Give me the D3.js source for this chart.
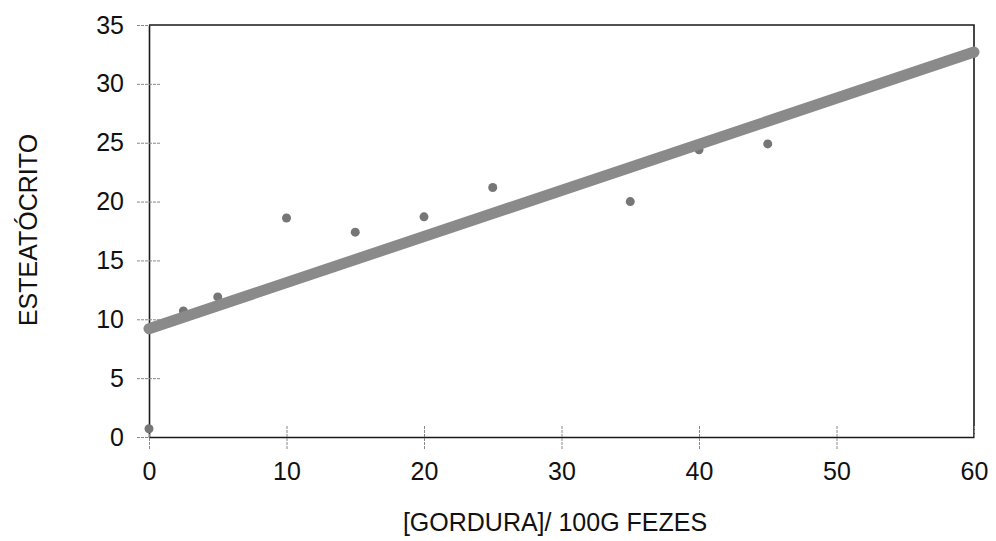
<!DOCTYPE html>
<html>
<head>
<meta charset="utf-8">
<script src="https://cdn.jsdelivr.net/npm/d3@7"></script>
<style>
  html, body { margin: 0; padding: 0; background: #fff; }
  svg { display: block; font-family: "Liberation Sans", Arial, sans-serif; }
</style>
</head>
<body>
<svg id="chart" width="996" height="541"></svg>
<script>
// Measured fat content vs steatocrit
const fatValues   = [0, 0, 2.5, 5, 10, 15, 20, 25, 35, 40, 45, 60];
const steatocrit  = [0.7, 9.2, 10.7, 11.9, 18.6, 17.4, 18.7, 21.2, 20.0, 24.4, 24.9, 32.6];

// Fitted regression line endpoints
const fitX = [0, 60];
const fitY = [9.2, 32.7];

const xTicks = [0, 10, 20, 30, 40, 50, 60];
const yTicks = [0, 5, 10, 15, 20, 25, 30, 35];

const xTitle = "[GORDURA]/ 100G FEZES";
const yTitle = "ESTEATÓCRITO";

const svg = d3.select("#chart");
const plotLeft = 149, plotRight = 974, plotTop = 25, plotBottom = 437;
const fontSize = 25;

const x = d3.scaleLinear().domain([0, 60]).range([plotLeft, plotRight]);
const y = d3.scaleLinear().domain([0, 35]).range([plotBottom, plotTop]);

// Frame (top and right edges)
svg.append("path")
  .attr("d", `M${plotLeft},${plotTop}H${plotRight}V${plotBottom}`)
  .attr("fill", "none").attr("stroke", "#1a1a1a").attr("stroke-width", 1.6);

// Y axis: ticks crossing the axis line
const yAxis = svg.append("g").attr("transform", `translate(${plotLeft},0)`)
  .call(d3.axisLeft(y).tickValues(yTicks).tickSize(0).tickPadding(25));
yAxis.select(".domain").attr("stroke", "#1a1a1a").attr("stroke-width", 1.6);
yAxis.selectAll(".tick text")
  .attr("font-size", fontSize).attr("fill", "#111")
  .attr("font-family", "Liberation Sans, Arial, sans-serif");
yAxis.selectAll(".tick").append("line")
  .attr("x1", -12).attr("x2", d => d === 35 ? 0 : 12)
  .attr("stroke", "#888").attr("stroke-width", 1).attr("stroke-dasharray", "3,1");

// X axis
const xAxis = svg.append("g").attr("transform", `translate(0,${plotBottom})`)
  .call(d3.axisBottom(x).tickValues(xTicks).tickSize(0).tickPadding(25));
xAxis.select(".domain").attr("stroke", "#1a1a1a").attr("stroke-width", 1.6);
xAxis.selectAll(".tick text")
  .attr("font-size", fontSize).attr("fill", "#111")
  .attr("font-family", "Liberation Sans, Arial, sans-serif");
xAxis.selectAll(".tick").append("line")
  .attr("y1", -11).attr("y2", d => d === 60 ? 0 : 12)
  .attr("stroke", "#888").attr("stroke-width", 1).attr("stroke-dasharray", "3,1");

// Data points
svg.append("g").selectAll("circle")
  .data(fatValues.map((v, i) => [v, steatocrit[i]]))
  .join("circle")
  .attr("cx", d => x(d[0])).attr("cy", d => y(d[1]))
  .attr("r", 4.5).attr("fill", "#767676");

// Regression line
svg.append("path")
  .datum(fitX.map((v, i) => [v, fitY[i]]))
  .attr("d", d3.line().x(d => x(d[0])).y(d => y(d[1])))
  .attr("fill", "none").attr("stroke", "#8a8a8a")
  .attr("stroke-width", 11).attr("stroke-linecap", "round");

// Axis titles
svg.append("text")
  .attr("x", 555).attr("y", 531).attr("text-anchor", "middle")
  .attr("font-size", fontSize).attr("fill", "#111").text(xTitle);

svg.append("text")
  .attr("transform", "translate(37,230) rotate(-90)")
  .attr("text-anchor", "middle")
  .attr("font-size", fontSize).attr("fill", "#111").text(yTitle);
</script>
</body>
</html>
